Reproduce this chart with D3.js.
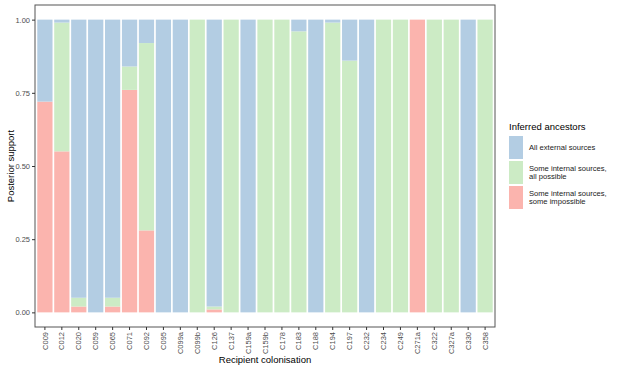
<!DOCTYPE html>
<html>
<head>
<meta charset="utf-8">
<script src="https://cdn.jsdelivr.net/npm/d3@7"></script>
<style>
  body { margin: 0; background: #fff; }
  text { font-family: "Liberation Sans", Arial, sans-serif; }
</style>
</head>
<body>
<div id="chart"></div>
<script>
/* Stacked posterior support per recipient colonisation */

const colonisations = ["C009", "C012", "C020", "C059", "C065", "C071", "C092", "C095", "C099a", "C099b",
    "C126", "C137", "C159a", "C159b", "C178", "C183", "C188", "C194", "C197", "C232",
    "C234", "C249", "C271a", "C322", "C327a", "C330", "C358"];

const someImpossible = [0.72, 0.55, 0.02, 0, 0.02, 0.76, 0.28, 0, 0, 0,
    0.01, 0, 0, 0, 0, 0, 0, 0, 0, 0,
    0, 0, 1, 0, 0, 0, 0];
const allPossible = [0, 0.44, 0.03, 0, 0.03, 0.08, 0.64, 0, 0, 1,
    0.01, 1, 0, 1, 1, 0.96, 0, 0.99, 0.86, 0,
    1, 1, 0, 1, 1, 0, 1];
const allExternal = [0.28, 0.01, 0.95, 1, 0.95, 0.16, 0.08, 1, 1, 0,
    0.98, 0, 1, 0, 0, 0.04, 1, 0.01, 0.14, 1,
    0, 0, 0, 0, 0, 1, 0];

const seriesKeys = ["impossible", "possible", "external"];
const seriesLabels = [["Some internal sources,", "some impossible"],
    ["Some internal sources,", "all possible"],
    ["All external sources"]];
const colors = ["#fbb4ae", "#ccebc5", "#b3cde3"];
const yTicks = [0, 0.25, 0.5, 0.75, 1];

const data = colonisations.map((c, i) => ({
    name: c,
    impossible: someImpossible[i],
    possible: allPossible[i],
    external: allExternal[i]
}));

const width = 617, height = 370;
const margin = { top: 5, right: 122, bottom: 43, left: 35 };

const svg = d3.select("#chart").append("svg")
    .attr("width", width)
    .attr("height", height);

const x = d3.scaleBand()
    .domain(colonisations)
    .range([margin.left, width - margin.right])
    .paddingInner(0.1)
    .paddingOuter(0.135);

/* 5% expansion on the y range, like ggplot */
const y = d3.scaleLinear()
    .domain([-0.05, 1.05])
    .range([height - margin.bottom, margin.top]);

const stack = d3.stack().keys(seriesKeys);
const layers = stack(data);

svg.append("g")
    .selectAll("g")
    .data(layers)
    .join("g")
    .attr("fill", (d, i) => colors[i])
    .selectAll("rect")
    .data(d => d)
    .join("rect")
    .attr("x", d => x(d.data.name))
    .attr("width", x.bandwidth())
    .attr("y", d => y(d[1]))
    .attr("height", d => y(d[0]) - y(d[1]));

/* panel border */
svg.append("rect")
    .attr("x", margin.left)
    .attr("y", margin.top)
    .attr("width", width - margin.right - margin.left)
    .attr("height", height - margin.bottom - margin.top)
    .attr("fill", "none")
    .attr("stroke", "#555")
    .attr("stroke-width", 1);

/* y axis */
const yAxis = svg.append("g")
    .attr("transform", `translate(${margin.left}, 0)`)
    .call(d3.axisLeft(y).tickValues(yTicks).tickFormat(d3.format(".2f")).tickSize(3).tickPadding(2));
yAxis.select(".domain").remove();
yAxis.selectAll("line").attr("stroke", "#333");
yAxis.selectAll("text").attr("fill", "#4d4d4d").style("font-size", "7.5px");

/* x axis */
const xAxis = svg.append("g")
    .attr("transform", `translate(0, ${height - margin.bottom})`)
    .call(d3.axisBottom(x).tickSize(3).tickPadding(2));
xAxis.select(".domain").remove();
xAxis.selectAll("line").attr("stroke", "#333");
xAxis.selectAll("text")
    .attr("fill", "#4d4d4d")
    .style("font-size", "7.5px")
    .attr("transform", "rotate(-90)")
    .attr("text-anchor", "end")
    .attr("x", -5)
    .attr("y", 0)
    .attr("dy", "0.35em");

/* axis titles */
svg.append("text")
    .attr("x", (margin.left + width - margin.right) / 2)
    .attr("y", 363)
    .attr("text-anchor", "middle")
    .style("font-size", "9.5px")
    .text("Recipient colonisation");

svg.append("text")
    .attr("transform", `translate(14, ${(margin.top + height - margin.bottom) / 2}) rotate(-90)`)
    .attr("text-anchor", "middle")
    .style("font-size", "9.5px")
    .text("Posterior support");

/* legend, external on top */
const legend = svg.append("g").attr("transform", "translate(509, 0)");
legend.append("text")
    .attr("x", 0)
    .attr("y", 130)
    .style("font-size", "9.5px")
    .text("Inferred ancestors");

const order = [2, 1, 0];
order.forEach((s, j) => {
    const top = 136 + j * 25;
    legend.append("rect")
        .attr("x", 0)
        .attr("y", top)
        .attr("width", 14)
        .attr("height", 23)
        .attr("fill", colors[s]);
    const lines = seriesLabels[s];
    const t = legend.append("text")
        .attr("x", 20)
        .attr("y", top + 11.5 - (lines.length - 1) * 4)
        .attr("dy", "0.35em")
        .style("font-size", "7.6px")
        .attr("fill", "#1a1a1a");
    lines.forEach((l, k) => {
        t.append("tspan").attr("x", 20).attr("dy", k === 0 ? "0.35em" : "8px").text(l);
    });
});
</script>
</body>
</html>
